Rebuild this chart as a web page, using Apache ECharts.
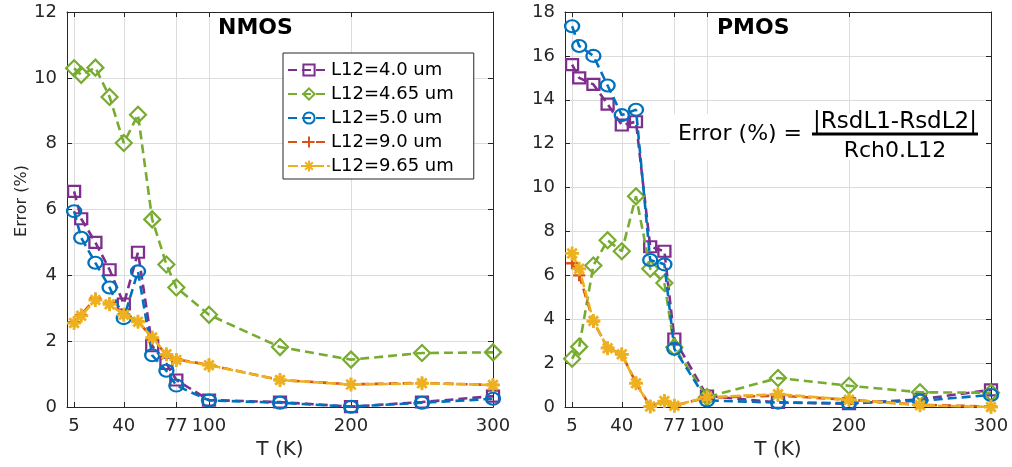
<!DOCTYPE html>
<html>
<head>
<meta charset="utf-8">
<script src="https://cdn.jsdelivr.net/npm/echarts@6/dist/echarts.min.js"></script>
<style>html,body{margin:0;padding:0;background:#fff;}#c{width:1012px;height:467px;}</style>
</head>
<body>
<div id="c"></div>
<script>
// ---- data ----
const T = [5, 10, 20, 30, 40, 50, 60, 70, 77, 100, 150, 200, 250, 300];
const xTicks = [5, 40, 77, 100, 200, 300];
const seriesNames = ['L12=4.0 um', 'L12=4.65 um', 'L12=5.0 um', 'L12=9.0 um', 'L12=9.65 um'];

const nmos_L4_0  = [6.55, 5.72, 5.0, 4.17, 3.13, 4.7, 1.86, 1.32, 0.82, 0.21, 0.15, 0.01, 0.15, 0.33];
const nmos_L4_65 = [10.29, 10.09, 10.31, 9.42, 8.02, 8.88, 5.7, 4.33, 3.63, 2.8, 1.82, 1.44, 1.64, 1.66];
const nmos_L5_0  = [5.95, 5.14, 4.38, 3.63, 2.7, 4.12, 1.57, 1.1, 0.65, 0.2, 0.13, 0.01, 0.13, 0.25];
const nmos_L9_0  = [2.58, 2.8, 3.3, 3.15, 2.82, 2.6, 2.1, 1.58, 1.45, 1.28, 0.82, 0.69, 0.73, 0.67];
const nmos_L9_65 = [2.55, 2.77, 3.25, 3.12, 2.8, 2.59, 2.11, 1.6, 1.43, 1.27, 0.82, 0.68, 0.72, 0.67];

const pmos_L4_0  = [15.6, 15.0, 14.7, 13.8, 12.85, 13.0, 7.3, 7.1, 3.1, 0.5, 0.21, 0.15, 0.35, 0.78];
const pmos_L4_65 = [2.2, 2.75, 6.45, 7.6, 7.1, 9.6, 6.3, 5.65, 2.72, 0.45, 1.32, 0.97, 0.67, 0.65];
const pmos_L5_0  = [17.35, 16.45, 16.0, 14.65, 13.3, 13.55, 6.7, 6.5, 2.65, 0.3, 0.2, 0.18, 0.28, 0.55];
const pmos_L9_0  = [6.55, 6.0, 3.9, 2.7, 2.4, 1.1, 0.03, 0.27, 0.07, 0.42, 0.52, 0.33, 0.1, 0.02];
const pmos_L9_65 = [7.0, 6.3, 3.92, 2.68, 2.4, 1.08, 0.02, 0.27, 0.06, 0.45, 0.58, 0.33, 0.08, 0.0];

// ---- styles ----
const colors = ['#7E2F8E', '#77AC30', '#0072BD', '#D95319', '#EDB120'];
const symbols = [
  'rect', 'diamond', 'circle',
  'path://M5,0L5,10M0,5L10,5',
  'path://M5,0L5,10M0,5L10,5M1.6,1.6L8.4,8.4M8.4,1.6L1.6,8.4'
];
const symbolSizes = [[12, 11], [16, 16], [14, 12], [12, 12], [14, 14]];
const borderWidths = [2.2, 2.2, 2.2, 2.4, 2.8];
const FONT = 'DejaVu Sans';
const AX = '#262626';

function pairs(vals) { return T.map((t, i) => [t, vals[i]]); }

function mk(idx, vals, axisIdx) {
  const c = colors[idx];
  return {
    name: seriesNames[idx],
    type: 'line',
    xAxisIndex: axisIdx, yAxisIndex: axisIdx,
    data: pairs(vals),
    symbol: symbols[idx],
    symbolSize: symbolSizes[idx],
    showAllSymbol: true,
    animation: false,
    lineStyle: { color: c, width: 2.6, type: idx === 4 ? [10, 3] : [9, 5] },
    itemStyle: { color: 'rgba(0,0,0,0)', borderColor: c, borderWidth: borderWidths[idx] },
    z: 2 + idx
  };
}

function xAx(grid, pos, labels) {
  return {
    type: 'value', gridIndex: grid, position: pos, min: 0, max: 300,
    name: labels ? 'T (K)' : '', nameLocation: 'middle', nameGap: 27,
    nameTextStyle: { fontFamily: FONT, fontSize: 20, color: AX, verticalAlign: 'top' },
    axisLine: { show: true, onZero: false, lineStyle: { color: AX, width: 1 } },
    axisTick: { show: true, inside: true, length: 5, customValues: xTicks, lineStyle: { color: AX } },
    axisLabel: { show: labels, customValues: xTicks, fontFamily: FONT, fontSize: 18, color: AX, margin: 10 },
    splitLine: { show: labels, lineStyle: { color: '#dcdcdc', width: 1 } }
  };
}
function yAx(grid, pos, labels, max) {
  return {
    type: 'value', gridIndex: grid, position: pos, min: 0, max: max, interval: 2,
    axisLine: { show: true, onZero: false, lineStyle: { color: AX, width: 1 } },
    axisTick: { show: true, inside: true, length: 5, lineStyle: { color: AX } },
    axisLabel: { show: labels, fontFamily: FONT, fontSize: 18, color: AX, margin: 10 },
    splitLine: { show: labels, lineStyle: { color: '#dcdcdc', width: 1 } }
  };
}

const chart = echarts.init(document.getElementById('c'), null, { renderer: 'canvas' });
chart.setOption({
  backgroundColor: '#fff',
  animation: false,
  grid: [
    { left: 67, top: 12, width: 426, height: 395 },
    { left: 565, top: 12, width: 426, height: 395 }
  ],
  xAxis: [xAx(0, 'bottom', true), xAx(0, 'top', false), xAx(1, 'bottom', true), xAx(1, 'top', false)],
  yAxis: [yAx(0, 'left', true, 12), yAx(0, 'right', false, 12),
          yAx(1, 'left', true, 18), yAx(1, 'right', false, 18)],
  legend: {
    left: 283, top: 53, orient: 'vertical',
    data: seriesNames,
    itemWidth: 42, itemHeight: 14, itemGap: 6,
    padding: [8, 20, 4, 4],
    backgroundColor: '#fff', borderColor: AX, borderWidth: 1, borderRadius: 0,
    textStyle: { fontFamily: FONT, fontSize: 18, color: '#000', padding: [0, 0, 0, -4] }
  },
  title: [
    { text: 'NMOS', left: 213, top: 12, textStyle: { fontFamily: FONT, fontSize: 22, fontWeight: 'bold', color: '#000' } },
    { text: 'PMOS', left: 712, top: 12, textStyle: { fontFamily: FONT, fontSize: 22, fontWeight: 'bold', color: '#000' } }
  ],
  graphic: [
    { type: 'text', x: 22, y: 201, rotation: Math.PI / 2, z: 10,
      style: { text: 'Error (%)', font: '16px "DejaVu Sans"', fill: AX, align: 'center', verticalAlign: 'middle' } },
    { type: 'rect', left: 670, top: 114, shape: { width: 316, height: 46 }, style: { fill: '#fff' }, z: 5, silent: true },
    { type: 'text', x: 740, y: 134, z: 10, style: { text: 'Error (%) =', font: '22px "DejaVu Sans"', fill: '#000', align: 'center', verticalAlign: 'middle' } },
    { type: 'text', x: 895, y: 122, z: 10, style: { text: '|RsdL1-RsdL2|', font: '23px "DejaVu Sans"', fill: '#000', align: 'center', verticalAlign: 'middle' } },
    { type: 'line', z: 10, shape: { x1: 812, y1: 134, x2: 978, y2: 134 }, style: { stroke: '#000', lineWidth: 3 } },
    { type: 'text', x: 895, y: 151, z: 10, style: { text: 'Rch0.L12', font: '22px "DejaVu Sans"', fill: '#000', align: 'center', verticalAlign: 'middle' } }
  ],
  series: [
    mk(0, nmos_L4_0, 0), mk(1, nmos_L4_65, 0), mk(2, nmos_L5_0, 0), mk(3, nmos_L9_0, 0), mk(4, nmos_L9_65, 0),
    mk(0, pmos_L4_0, 2), mk(1, pmos_L4_65, 2), mk(2, pmos_L5_0, 2), mk(3, pmos_L9_0, 2), mk(4, pmos_L9_65, 2)
  ]
});
</script>
</body>
</html>
